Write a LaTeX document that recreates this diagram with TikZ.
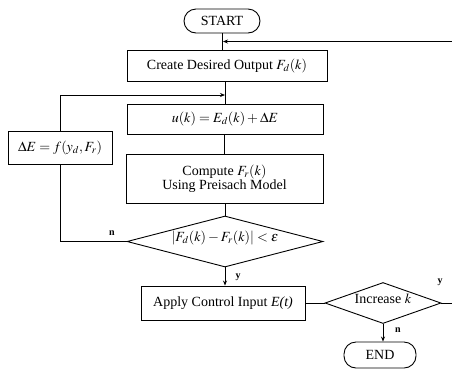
\documentclass[tikz,border=0pt]{standalone}
\usepackage{mathptmx}
\usepackage[no-math]{fontspec}
\setmainfont{Liberation Serif}
\usetikzlibrary{shapes.geometric,arrows.meta}

\newcommand{\nosize}[1]{\smash{\makebox[0pt]{#1}}}

\tikzset{
  box/.style={draw, line width=0.9pt, inner sep=0pt, align=center},
  term/.style={draw, line width=0.9pt, inner sep=0pt, rounded corners=12pt},
  test/.style={draw, diamond, line width=0.9pt, inner sep=0pt},
  flow/.style={line width=0.8pt},
  arr/.style={flow, -{Stealth[length=5pt,width=4pt]}},
  tag/.style={font=\fontsize{10}{12}\selectfont\bfseries, inner sep=0pt}
}

\begin{document}
\begin{tikzpicture}[x=1pt, y=-1pt, font=\fontsize{14}{16}\selectfont]
  \useasboundingbox (0,0) rectangle (452,368);
  \node[term, minimum width=76pt, minimum height=24pt] (S) at (222,21) {START};
  \node[box, minimum width=200pt, minimum height=31pt] (C) at (227,66) {Create Desired Output $F_d(k)$};
  \node[box, minimum width=196pt, minimum height=30pt] (U) at (225,119) {$u(k) = E_d(k) + \Delta E$};
  \node[box, minimum width=104pt, minimum height=33pt] (D) at (60,148) {$\Delta E = f(y_d, F_r)$};
  \node[box, minimum width=197pt, minimum height=49pt] (P) at (224.5,178.5) {Compute $F_r(k)$\\[-2pt]Using Preisach Model};
  \node[test, minimum width=196pt, minimum height=51pt] (Q) at (225,241.5) {\nosize{$\left|F_d(k) - F_r(k)\right| < \varepsilon$}};
  \node[box, minimum width=164pt, minimum height=34pt] (A) at (223,303) {Apply Control Input \textit{E(t)}};
  \node[test, minimum width=116pt, minimum height=41pt] (K) at (383,303) {\nosize{Increase $k$}};
  \node[term, minimum width=72pt, minimum height=26pt] (E) at (380,355) {END};
  \coordinate (R) at (453,303);
  \coordinate (T) at (223,41.5);
  \coordinate (L) at (60,95);
  \draw[flow] (S) -- (S |- C.north);
  \draw[arr] (R) -- (R |- T) -- (T);
  \draw[flow] (C.south -| U) -- (U);
  \draw[arr] (D) -- (L) -- (L -| U.north);
  \draw[flow] (U.south -| P) -- (P);
  \draw[flow] (P.south -| Q) -- (Q);
  \draw[flow] (Q.west) -| (D.south);
  \draw[arr] (Q.south) -- (Q.south |- A.north);
  \draw[flow] (A.east) -- (K.west);
  \draw[flow] (K.east) -- (R);
  \draw[arr] (K.south) -- (K.south |- E.north);
  \node[tag] (n1) at (112,233) {n};
  \node[tag] (y1) at (238,277) {y};
  \node[tag] (y2) at (440,282) {y};
  \node[tag] (n2) at (398,330) {n};
\end{tikzpicture}
\end{document}
